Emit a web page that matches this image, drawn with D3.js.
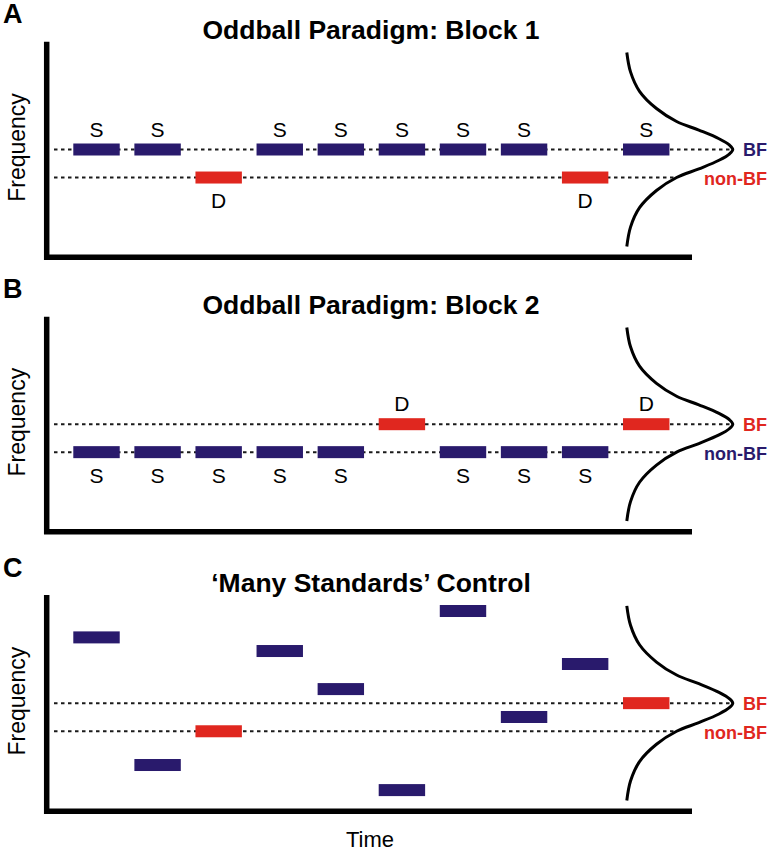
<!DOCTYPE html>
<html><head><meta charset="utf-8">
<script src="https://cdn.jsdelivr.net/npm/d3@7"></script>
<style>html,body{margin:0;padding:0;background:#fff;}svg{display:block;}</style>
</head><body>
<script>
// ---------- data ----------
const panelLetters = ["A", "B", "C"];
const panelTitles = ["Oddball Paradigm: Block 1", "Oddball Paradigm: Block 2", "\u2018Many Standards\u2019 Control"];
const trialTimes = [0, 1, 2, 3, 4, 5, 6, 7, 8, 9];
const freqA = [50, 50, 37, 50, 50, 50, 50, 50, 37, 50];
const freqB = [37, 37, 37, 37, 37, 50, 37, 37, 37, 50];
const freqC = [80.4, 21.4, 37, 74.1, 56.5, 9.8, 92.6, 43.6, 68.1, 50];
const typeA = ["S", "S", "D", "S", "S", "S", "S", "S", "D", "S"];
const typeB = ["S", "S", "S", "S", "S", "D", "S", "S", "S", "D"];
const typeC = ["S", "S", "D", "S", "S", "S", "S", "S", "S", "D"];
const showLetters = [true, true, false];
const bfLevel = 50;
const nonBfLevel = 37;
const refLabels = ["BF", "non-BF"];
const bfLabelType = ["S", "D", "D"];      // colour of the "BF" label follows this stimulus type
const nonBfLabelType = ["D", "S", "D"];   // colour of the "non-BF" label
// tuning curve: frequency offset from BF, relative response
const curveOffsets = [45, 36, 27, 19, 13, 9, 5, 2, 0, -2, -5, -9, -13, -19, -27, -36, -45];
const curveResp    = [0, 0.035, 0.12, 0.28, 0.47, 0.68, 0.87, 0.97, 1, 0.97, 0.87, 0.68, 0.47, 0.28, 0.12, 0.035, 0];
const axisLabels = {y: "Frequency", x: "Time"};

// ---------- layout ----------
const W = 769, H = 853;
const navy = "#291a6c", red = "#e0271f";
const colorOf = t => t === "S" ? navy : red;
const panelGeo = [
  {top: 41.7, bottom: 257.3, letterY: 23, titleY: 39},
  {top: 316.7, bottom: 531.7, letterY: 298, titleY: 314},
  {top: 595, bottom: 811.3, letterY: 577, titleY: 592}
];
const axisX = 46.7, axisRight = 692, dashStart = 54;
const barH = 12, barFrac = 0.76;
const curveBaseT = 9.062, curveAmpT = 1.735;

const svg = d3.select("body").append("svg").attr("width", W).attr("height", H)
  .style("font-family", "'Liberation Sans', Arial, Helvetica, sans-serif");

const x = d3.scaleLinear().domain([0, 10]).range([73.3, 684.1]);

const freqs = [freqA, freqB, freqC];
const types = [typeA, typeB, typeC];

panelGeo.forEach((g, p) => {
  const y = d3.scaleLinear().domain([0, 100]).range([g.bottom, g.top]);
  const G = svg.append("g");

  // panel letter & title
  G.append("text").attr("x", 3).attr("y", g.letterY).attr("font-size", 27).attr("font-weight", "bold")
    .text(panelLetters[p]);
  G.append("text").attr("x", 371).attr("y", g.titleY).attr("font-size", 26.5).attr("font-weight", "bold")
    .attr("text-anchor", "middle").text(panelTitles[p]);

  // y-axis label
  const mid = (g.top + g.bottom) / 2 - 2;
  G.append("text").attr("transform", `translate(25,${mid}) rotate(-90)`)
    .attr("text-anchor", "middle").attr("font-size", 23).text(axisLabels.y);

  // tuning curve
  const curvePts = curveOffsets.map((o, i) => [x(curveBaseT + curveAmpT * curveResp[i]), y(bfLevel + o)]);
  const respAt = off => {
    const a = Math.abs(off);
    for (let i = 8; i < curveOffsets.length - 1; i++) {
      const o0 = -curveOffsets[i], o1 = -curveOffsets[i + 1];
      if (a >= o0 && a <= o1) return curveResp[i] + (curveResp[i + 1] - curveResp[i]) * (a - o0) / (o1 - o0);
    }
    return 0;
  };

  // dashed reference lines
  [bfLevel, nonBfLevel].forEach(lv => {
    G.append("line")
      .attr("x1", dashStart).attr("x2", x(curveBaseT + curveAmpT * respAt(lv - bfLevel)))
      .attr("y1", y(lv)).attr("y2", y(lv))
      .attr("stroke", "#1a1a1a").attr("stroke-width", 2).attr("stroke-dasharray", "3.5,3.5");
  });

  // bars
  const data = trialTimes.map((t, i) => ({t, f: freqs[p][i], type: types[p][i]}));
  G.selectAll("rect.bar").data(data).join("rect").attr("class", "bar")
    .attr("x", d => x(d.t)).attr("width", d => x(d.t + barFrac) - x(d.t))
    .attr("y", d => y(d.f) - barH / 2).attr("height", barH)
    .attr("fill", d => colorOf(d.type));

  if (showLetters[p]) {
    G.selectAll("text.lab").data(data).join("text").attr("class", "lab")
      .attr("x", d => x(d.t + barFrac / 2))
      .attr("y", d => d.f >= bfLevel ? y(d.f) - barH / 2 - 7 : y(d.f) + barH / 2 + 24.5)
      .attr("text-anchor", "middle").attr("font-size", 21).text(d => d.type);
  }

  G.append("path").datum(curvePts)
    .attr("d", d3.line().curve(d3.curveCatmullRom.alpha(0.5)))
    .attr("fill", "none").attr("stroke", "#000").attr("stroke-width", 3);

  // BF / non-BF labels
  G.append("text").attr("x", 767).attr("y", y(bfLevel)).attr("dy", "0.36em")
    .attr("text-anchor", "end").attr("font-size", 18).attr("font-weight", "bold")
    .attr("fill", colorOf(bfLabelType[p])).text(refLabels[0]);
  G.append("text").attr("x", 767).attr("y", y(nonBfLevel)).attr("dy", "0.42em")
    .attr("text-anchor", "end").attr("font-size", 18).attr("font-weight", "bold")
    .attr("fill", colorOf(nonBfLabelType[p])).text(refLabels[1]);

  // axes
  G.append("path")
    .attr("d", `M${axisX},${g.top}V${g.bottom}H${axisRight}`)
    .attr("fill", "none").attr("stroke", "#000").attr("stroke-width", 5.5).attr("stroke-linejoin", "miter");
});

svg.append("text").attr("x", 370).attr("y", 847).attr("text-anchor", "middle").attr("font-size", 22)
  .text(axisLabels.x);
</script>
</body></html>
